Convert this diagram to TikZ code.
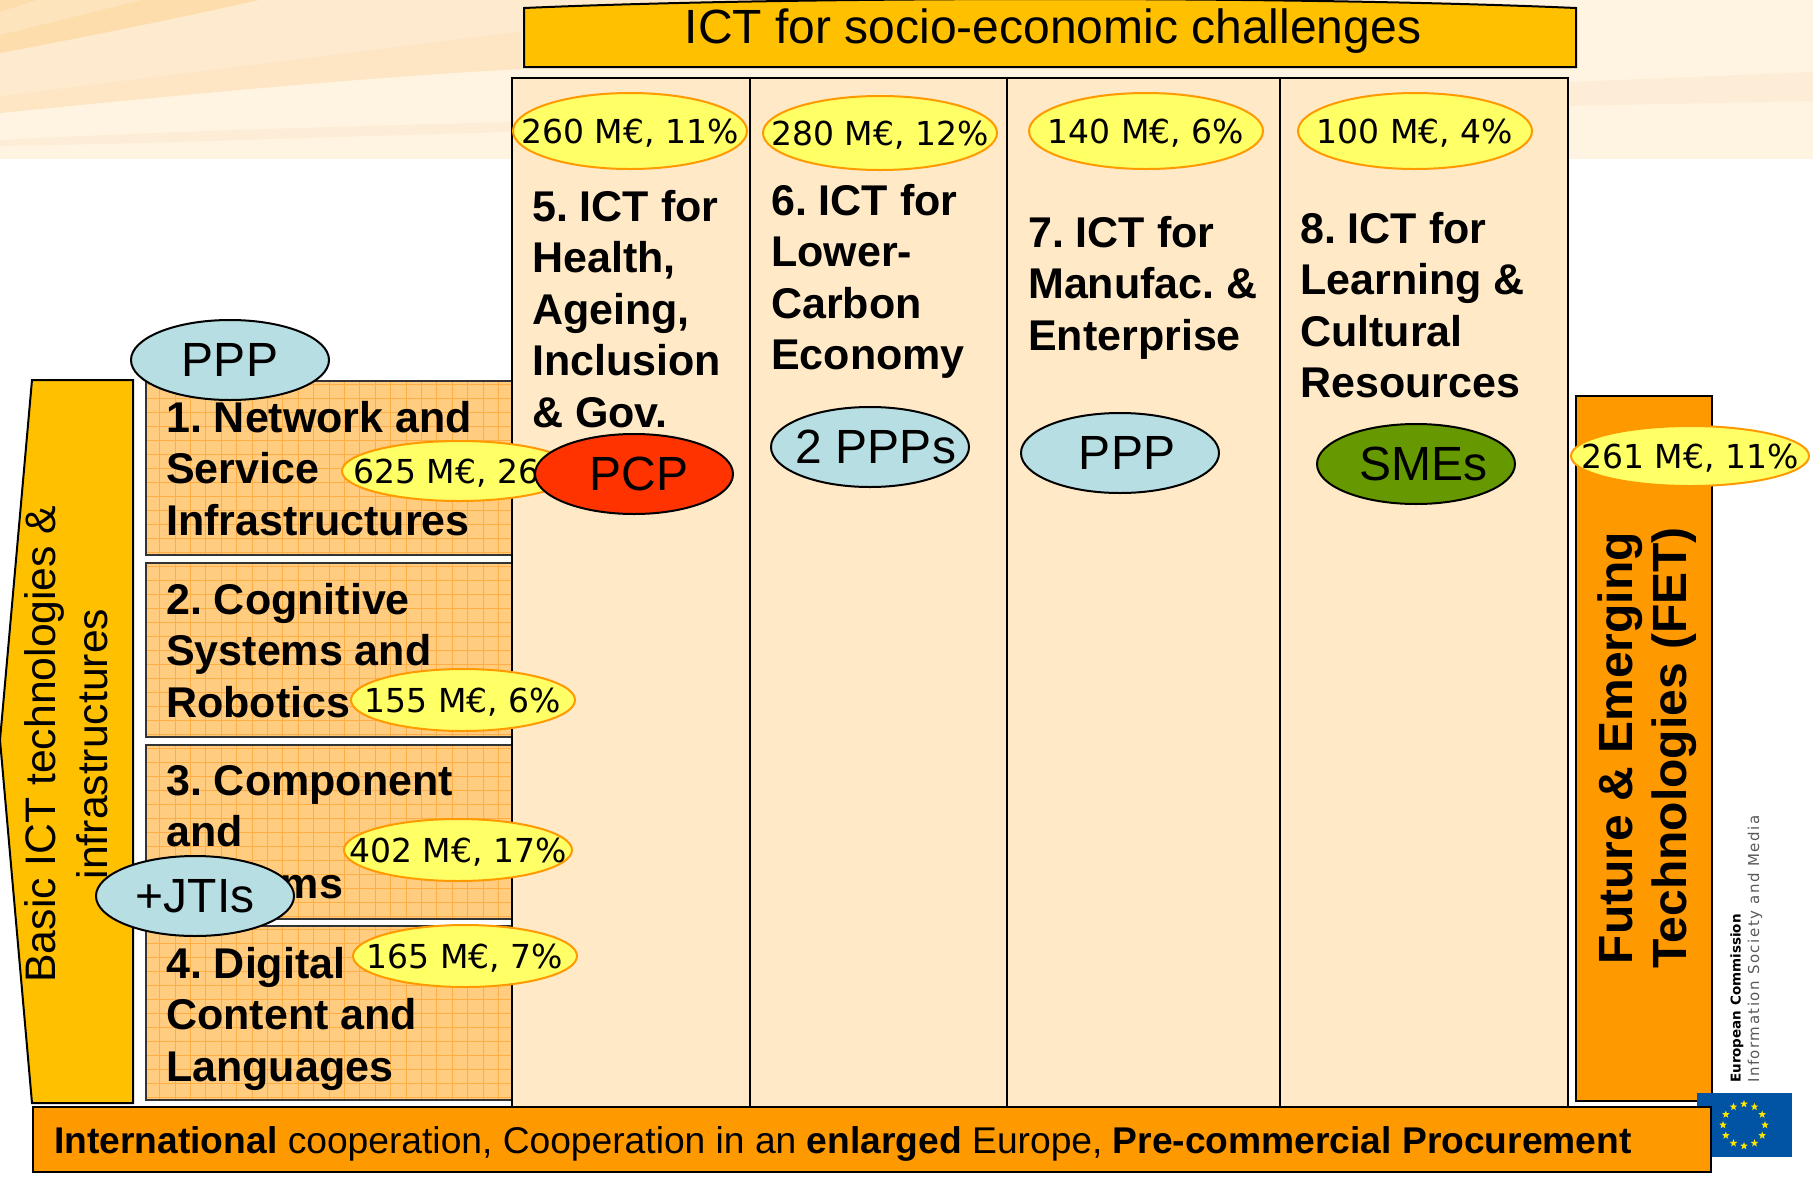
\documentclass[tikz,border=0pt]{standalone}
\usepackage{fontspec}
\setmainfont{Liberation Sans}
\newfontfamily\moneyfont{DejaVu Sans}
\newfontfamily\spacedfont[LetterSpace=10]{DejaVu Sans}
\usetikzlibrary{shapes.geometric, positioning}
\frenchspacing
\definecolor{bandlight}{HTML}{FFF4E1}
\definecolor{bandmid}{HTML}{FEEBCF}
\definecolor{bandstrong}{HTML}{FEE5C3}
\definecolor{bandthin}{HTML}{FEEDD6}
\definecolor{wedgepale}{HTML}{FDE4BD}
\definecolor{wedgedark}{HTML}{FCDDAB}
\definecolor{amber}{HTML}{FFC000}
\definecolor{deeporange}{HTML}{FF9900}
\definecolor{columnfill}{HTML}{FFE9C6}
\definecolor{boxfill}{HTML}{FFCC80}
\definecolor{gridline}{HTML}{FFAE45}
\definecolor{moneyfill}{HTML}{FFFF66}
\definecolor{pppfill}{HTML}{B7DEE3}
\definecolor{pcpfill}{HTML}{FF3300}
\definecolor{smefill}{HTML}{669900}
\definecolor{flagblue}{HTML}{0054A3}
\definecolor{flagstar}{HTML}{FFE500}
\tikzset{
    column/.style={draw=black, line width=2pt, fill=columnfill, rectangle, minimum height=1031pt, inner sep=0pt},
    areabox/.style={draw=black!80, line width=2.5pt, fill=boxfill, rectangle, minimum width=366pt, minimum height=174pt, inner sep=0pt,
        path picture={\draw[gridline, line width=0.7pt, xstep=15.4pt, ystep=14pt] (path picture bounding box.south west) grid (path picture bounding box.north east);}},
    areatext/.style={anchor=north west, align=left, inner sep=0pt, font=\fontsize{43}{51.5}\selectfont\bfseries},
    money/.style={ellipse, draw=deeporange, line width=2pt, fill=moneyfill, inner xsep=-40pt, inner ysep=-12pt, text height=29pt, text depth=5pt, font=\fontsize{33}{38}\moneyfont},
    scheme/.style={ellipse, draw=black, line width=2pt, minimum width=198pt, minimum height=80pt, inner xsep=-30pt, inner ysep=-12pt, font=\fontsize{48}{56}\selectfont},
}
\begin{document}
\begin{tikzpicture}[x=1pt, y=-1pt]
    \useasboundingbox (0, 0) rectangle (1813, 1176);
    \fill[bandlight] (0, 0) rectangle (1813, 159);
    \fill[bandmid] (0, 0) -- (770, 0) -- (522, 31) -- (0, 96) -- cycle;
    \fill[wedgedark] (0, 0) -- (259, 0) .. controls (170, 20) and (80, 38) .. (0, 53) -- cycle;
    \fill[wedgepale] (0, 12) -- (37, 0) -- (142, 0) -- (0, 35) -- cycle;
    \fill[bandstrong] (0, 96) -- (522, 31) -- (522, 69) .. controls (350, 78) and (150, 98) .. (0, 113) -- cycle;
    \fill[bandthin] (0, 140) .. controls (150, 132) and (350, 126) .. (512, 122) -- (512, 132) .. controls (350, 136) and (150, 144) .. (0, 146) -- cycle;
    \fill[bandthin] (1570, 82) -- (1813, 72) -- (1813, 101) -- (1570, 106) -- cycle;

    \draw[fill=amber, line width=2pt] (524, 8) .. controls (800, -4) and (1300, -4) .. (1576, 8) -- (1576, 67) -- (524, 67) -- cycle;
    \node[font=\fontsize{48}{56}\selectfont] (title) at (1053, 31) {ICT for socio-economic challenges};

    \draw[fill=amber, draw=black, line width=2pt] (32, 380) -- (133, 380) -- (133, 1103) -- (32, 1103) -- (0, 740) -- cycle;
    \node[rotate=90, align=center, font=\fontsize{42.7}{52}\selectfont] (basic) at (66, 744) {Basic ICT technologies \&\\infrastructures};

    \node[areabox] (box1) at (329, 468) {};
    \node[areabox] (box2) at (329, 650) {};
    \node[areabox] (box3) at (329, 832) {};
    \node[areabox] (box4) at (329, 1013) {};
    \node[areatext] (area1) at (166, 401) {1. Network and\\Service\\Infrastructures};
    \node[areatext] (area2) at (166, 583) {2. Cognitive\\Systems and\\Robotics};
    \node[areatext] (area3) at (166, 765) {3. Component\\and\\Systems};
    \node[areatext] (area4) at (166, 947) {4. Digital\\Content and\\Languages};

    \node[column, minimum width=238pt] (col5) at (631, 593) {};
    \node[column, minimum width=257pt] (col6) at (878.5, 593) {};
    \node[column, minimum width=273pt] (col7) at (1143.5, 593) {};
    \node[column, minimum width=288pt] (col8) at (1424, 593) {};
    \node[areatext] (area5) at (532, 190) {5. ICT for\\Health,\\Ageing,\\Inclusion\\\& Gov.};
    \node[areatext] (area6) at (771, 184) {6. ICT for\\Lower-\\Carbon\\Economy};
    \node[areatext] (area7) at (1028, 216) {7. ICT for\\Manufac. \&\\Enterprise};
    \node[areatext] (area8) at (1300, 212) {8. ICT for\\Learning \&\\Cultural\\Resources};

    \draw[fill=deeporange, line width=2.5pt] (1576, 396) rectangle (1712, 1101);
    \node[rotate=90, align=center, font=\fontsize{48}{54}\selectfont\bfseries] (fet) at (1647, 748) {Future \& Emerging\\Technologies (FET)};

    \fill[flagblue] (1697, 1093) rectangle (1792, 1157);
    \foreach \a in {0, 30, ..., 330}
        \node[star, star points=5, star point ratio=2.4, fill=flagstar, inner sep=0pt, minimum size=8pt] (star\a) at ({1744 + 21*cos(\a)}, {1125 + 21*sin(\a)}) {};
    \node[rotate=90, anchor=west, inner sep=0pt, font=\fontsize{13.5}{16}\moneyfont\bfseries] (ec) at (1737, 1083) {European Commission};
    \node[rotate=90, anchor=west, inner sep=0pt, text=black!65, font=\fontsize{15}{17}\spacedfont] (infso) at (1755, 1083) {Information Society and Media};

    \draw[fill=deeporange, line width=2.5pt] (33, 1107) rectangle (1711, 1172);
    \node[anchor=west, inner sep=0pt, font=\fontsize{37.2}{44}\selectfont] (intl) at (54, 1144) {\textbf{International} cooperation, Cooperation in an \textbf{enlarged} Europe, \textbf{Pre-commercial Procurement}};

    \node[scheme, fill=pppfill] (ppp1) at (230, 360) {PPP};
    \node[money, minimum width=234pt, minimum height=60pt] (m625) at (459, 471) {\hspace*{6pt}625 M€, 26\%};
    \node[money, minimum width=224pt, minimum height=62pt] (m155) at (463, 700) {155 M€, 6\%};
    \node[money, minimum width=228pt, minimum height=62pt] (m402) at (458, 850) {402 M€, 17\%};
    \node[money, minimum width=224pt, minimum height=62pt] (m165) at (465, 956) {165 M€, 7\%};
    \node[scheme, fill=pppfill] (jti) at (195, 896) {+JTIs};
    \node[scheme, fill=pcpfill] (pcp) at (634, 474) {\hspace*{10pt}PCP};
    \node[scheme, fill=pppfill] (ppp2) at (870, 447) {\hspace*{12pt}2 PPPs};
    \node[scheme, fill=pppfill] (ppp3) at (1120, 453) {\hspace*{14pt}PPP};
    \node[scheme, fill=smefill] (sme) at (1416, 464) {\hspace*{14pt}SMEs};
    \node[money, minimum width=234pt, minimum height=76pt] (m260) at (630, 131) {260 M€, 11\%};
    \node[money, minimum width=234pt, minimum height=74pt] (m280) at (880, 133) {280 M€, 12\%};
    \node[money, minimum width=234pt, minimum height=76pt] (m140) at (1146, 131) {140 M€, 6\%};
    \node[money, minimum width=234pt, minimum height=76pt] (m100) at (1415, 131) {100 M€, 4\%};
    \node[money, minimum width=238pt, minimum height=60pt] (m261) at (1690, 456) {261 M€, 11\%};
\end{tikzpicture}
\end{document}
